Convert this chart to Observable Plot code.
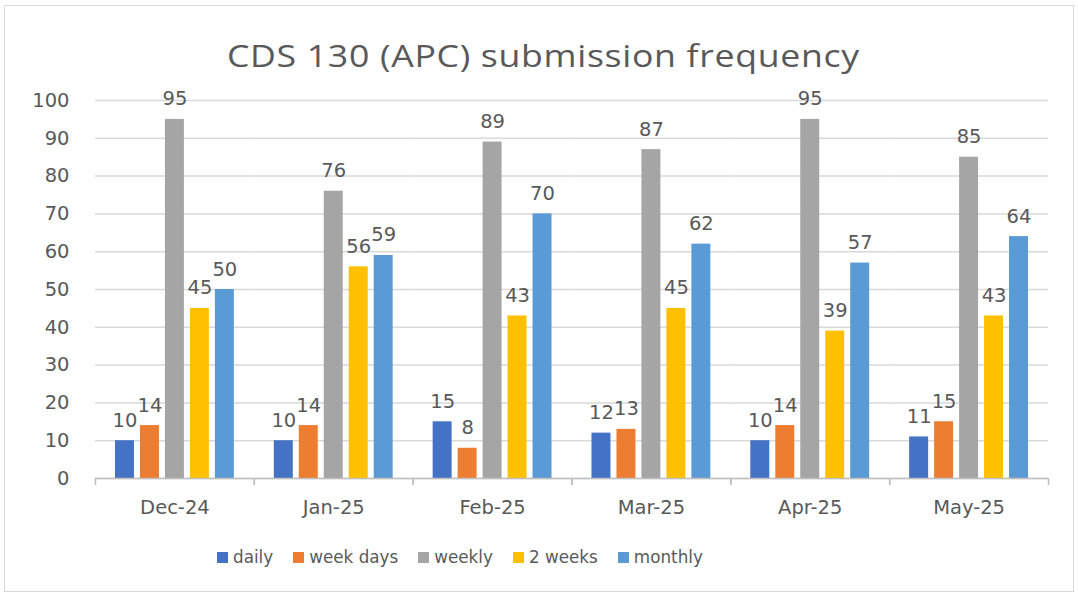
<!DOCTYPE html>
<html>
<head>
<meta charset="utf-8">
<script src="https://cdn.jsdelivr.net/npm/d3@7"></script>
<script src="https://cdn.jsdelivr.net/npm/@observablehq/plot@0.6"></script>
<style>
  html, body { margin: 0; padding: 0; background: #fff; }
  #wrap { position: relative; width: 1078px; height: 594px; overflow: hidden; background: #fff; }
  #border { position: absolute; left: 4px; top: 5px; width: 1068px; height: 585px; border: 1.5px solid #d9d9d9; }
  #title { position: absolute; left: 4px; width: 1080px; top: 40px; text-align: center;
    font-family: "Open Sans", sans-serif; font-size: 31px; color: #595959; line-height: 1; letter-spacing: 0.6px;
    transform: scaleX(1.15); transform-origin: 544px 0; }
  #chart { position: absolute; left: 0; top: 80px; }
  #legend { position: absolute; left: 217px; top: 547px; display: flex; gap: 20px; align-items: center;
    font-family: "DejaVu Sans", sans-serif; font-size: 16.8px; color: #595959; }
  .item { display: flex; align-items: center; gap: 5px; }
  .sw { width: 11px; height: 11px; display: inline-block; }
</style>
</head>
<body>
<div id="wrap">
  <div id="border"></div>
  <div id="title">CDS 130 (APC) submission frequency</div>
  <div id="chart"></div>
  <div id="legend"></div>
</div>
<script>
const months = ["Dec-24", "Jan-25", "Feb-25", "Mar-25", "Apr-25", "May-25"];
const seriesNames = ["daily", "week days", "weekly", "2 weeks", "monthly"];
const seriesColors = ["#4472C4", "#ED7D31", "#A5A5A5", "#FFC000", "#5B9BD5"];
const daily = [10, 10, 15, 12, 10, 11];
const weekDays = [14, 14, 8, 13, 14, 15];
const weekly = [95, 76, 89, 87, 95, 85];
const twoWeeks = [45, 56, 43, 45, 39, 43];
const monthly = [50, 59, 70, 62, 57, 64];
const yTicks = [0, 10, 20, 30, 40, 50, 60, 70, 80, 90, 100];

const seriesValues = [daily, weekDays, weekly, twoWeeks, monthly];
const data = [];
months.forEach((m, i) => {
  seriesNames.forEach((s, j) => data.push({month: m, series: s, value: seriesValues[j][i]}));
});

const textColor = "#595959";
const font = "DejaVu Sans, sans-serif";

const chart = Plot.plot({
  width: 1078,
  height: 440,
  marginLeft: 95,
  marginRight: 30,
  marginTop: 20,
  marginBottom: 42,
  style: {fontFamily: font, color: textColor, background: "transparent"},
  fx: {domain: months, paddingInner: 0, paddingOuter: 0, round: false, label: null},
  x: {domain: seriesNames, paddingInner: 0.24, paddingOuter: 0.8, round: false, axis: null},
  y: {domain: [0, 100], label: null},
  color: {domain: seriesNames, range: seriesColors},
  marks: [
    Plot.gridY(yTicks, {stroke: "#d9d9d9", strokeOpacity: 1, strokeWidth: 1.5}),
    Plot.axisY(yTicks, {tickSize: 0, tickPadding: 26, fontSize: 19.5, fill: textColor, label: null}),
    Plot.axisFx({anchor: "bottom", tickSize: 0, tickPadding: 22, fontSize: 19.5, fill: textColor, label: null}),
    Plot.barY(data, {fx: "month", x: "series", y: "value", fill: "series"}),
    Plot.ruleY([0], {stroke: "#bfbfbf", strokeWidth: 1.5}),
    Plot.ruleX(months, {fx: d => d, x: () => "daily", dx: -29.5, y1: 0, y2: 0, insetBottom: -7, stroke: "#bfbfbf", strokeWidth: 1.5}),
    Plot.ruleX(months, {fx: d => d, x: () => "monthly", dx: 29.5, y1: 0, y2: 0, insetBottom: -7, stroke: "#bfbfbf", strokeWidth: 1.5}),
    Plot.text(data, {fx: "month", x: "series", y: "value", text: d => String(d.value), lineAnchor: "bottom", dy: -14, fontSize: 19.5, fill: textColor})
  ]
});
document.getElementById("chart").appendChild(chart);

const legend = document.getElementById("legend");
seriesNames.forEach((s, i) => {
  const item = document.createElement("div");
  item.className = "item";
  const sw = document.createElement("span");
  sw.className = "sw";
  sw.style.background = seriesColors[i];
  const t = document.createElement("span");
  t.textContent = s;
  item.appendChild(sw);
  item.appendChild(t);
  legend.appendChild(item);
});
</script>
</body>
</html>
